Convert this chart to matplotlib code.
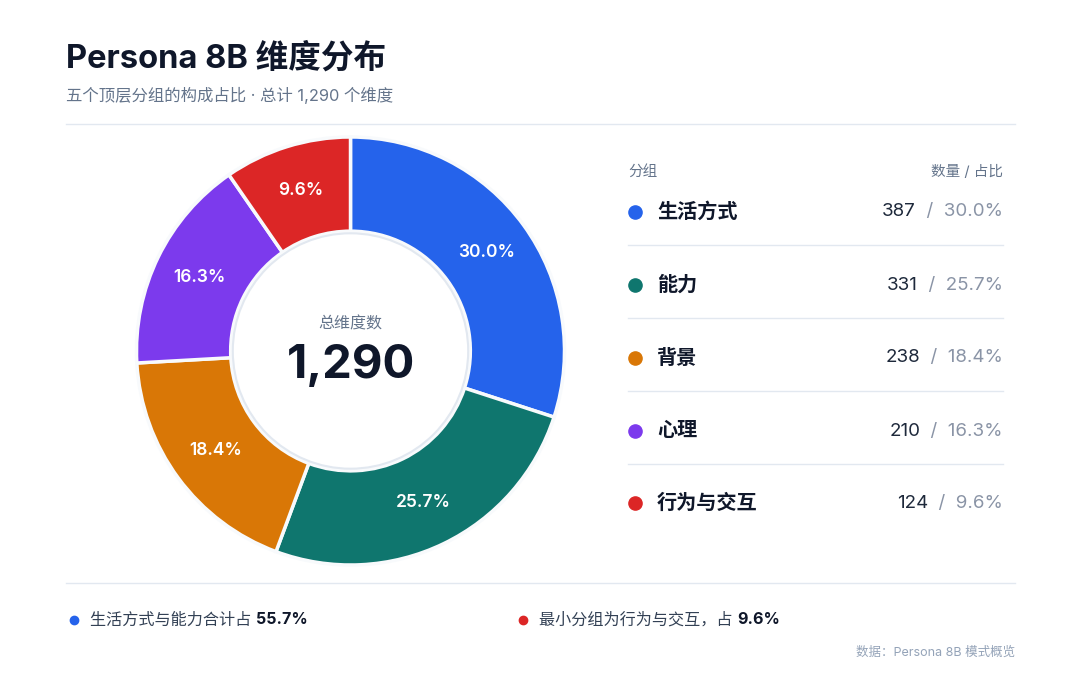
import numpy as np
import matplotlib
matplotlib.use('Agg')
import matplotlib.pyplot as plt
from matplotlib.patches import Circle

plt.rcParams['font.family'] = ['Inter', 'Noto Sans CJK SC', 'DejaVu Sans']

# data
groups = ['生活方式', '能力', '背景', '心理', '行为与交互']
counts = [387, 331, 238, 210, 124]
shares = [30.0, 25.7, 18.4, 16.3, 9.6]
colors = ['#2563EB', '#0F766E', '#D97706', '#7C3AED', '#DC2626']
total = 1290

DARK = '#0F172A'
GRAY = '#64748B'
LIGHT = '#E2E8F0'
W, H = 1080, 675

fig = plt.figure(figsize=(W / 100, H / 100), dpi=100)
fig.patch.set_facecolor('white')


def px(x, y):
    # pixel coords (top-left origin) -> figure fraction
    return x / W, 1 - y / H


def text(x, y, s, **kw):
    return fig.text(*px(x, y), s, **kw)


def hline(x0, x1, y, color=LIGHT, lw=1.0):
    fig.add_artist(plt.Line2D([x0 / W, x1 / W], [1 - y / H, 1 - y / H],
                              color=color, lw=lw, transform=fig.transFigure))


# header
text(66, 59, 'Persona 8B 维度分布', fontsize=23.5, fontweight='bold', color=DARK, va='center')
text(66, 95, '五个顶层分组的构成占比 · 总计 1,290 个维度', fontsize=11.8, color=GRAY, va='center')
hline(66, 1015, 124)

# donut
cx, cy, R = 350.5, 351, 214
ax = fig.add_axes([(cx - R) / W, 1 - (cy + R) / H, 2 * R / W, 2 * R / H])
wedges, _ = ax.pie(counts, colors=colors, startangle=90, counterclock=False, radius=1.0,
                   wedgeprops=dict(width=0.44, edgecolor='#F8FAFC', linewidth=2.5))
ax.set_xlim(-1, 1)
ax.set_ylim(-1, 1)
ax.set_aspect('equal')
ax.axis('off')
for w, s in zip(wedges, shares):
    ang = np.deg2rad((w.theta1 + w.theta2) / 2)
    r = 0.785
    ax.text(r * np.cos(ang), r * np.sin(ang), f'{s:.1f}%', color='white', fontsize=12.5,
            fontweight='semibold', ha='center', va='center')
ax.add_patch(Circle((0, 0), 0.55, facecolor='white', edgecolor=LIGHT, lw=1.5, zorder=3))
ax.text(0, 0.125, '总维度数', fontsize=11.5, color=GRAY, ha='center', va='center', zorder=4)
ax.text(0, -0.07, f'{total:,}', fontsize=34, fontweight='bold', color=DARK,
        ha='center', va='center', zorder=4)

# legend table
fig.canvas.draw()
renderer = fig.canvas.get_renderer()

text(628, 172, '分组', fontsize=10.5, color=GRAY, va='center')
text(1003, 172, '数量 / 占比', fontsize=10.5, color=GRAY, va='center', ha='right')
row_y = [212, 285, 358, 431, 503]
for i, (g, c, s, col) in enumerate(zip(groups, counts, shares, colors)):
    y = row_y[i]
    fig.add_artist(plt.Line2D([635 / W], [1 - y / H], marker='o', markersize=9.5,
                              color=col, transform=fig.transFigure))
    text(657, y, g, fontsize=14.5, fontweight='bold', color=DARK, va='center')
    t = text(1003, y, f'  /  {s:.1f}%', fontsize=13.5, color='#8A94A6', va='center', ha='right')
    bb = t.get_window_extent(renderer)
    fig.text(bb.x0 / W, 1 - y / H, f'{c}', fontsize=13.5, color='#1E293B', va='center', ha='right')
    if i < len(groups) - 1:
        hline(628, 1003, y + 33)

# footer
hline(66, 1015, 583)
notes = [(74, '生活方式与能力合计占 ', '55.7%', colors[0]),
         (523, '最小分组为行为与交互，占 ', '9.6%', colors[4])]
for x, a, b, col in notes:
    fig.add_artist(plt.Line2D([x / W], [1 - 620 / H], marker='o', markersize=6,
                              color=col, transform=fig.transFigure))
    t = text(x + 16, 620, a, fontsize=11.6, color='#334155', va='center')
    bb = t.get_window_extent(renderer)
    fig.text(bb.x1 / W, 1 - 620 / H, b, fontsize=11.6, fontweight='bold', color=DARK, va='center')
text(1015, 653, '数据：Persona 8B 模式概览', fontsize=9, color='#94A3B8', va='center', ha='right')

fig.savefig('out.png', dpi=100, facecolor='white')
